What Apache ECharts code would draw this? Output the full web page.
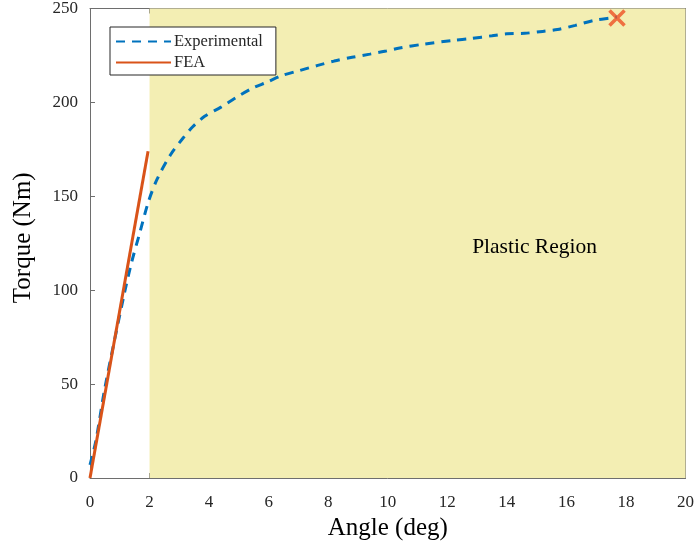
<!DOCTYPE html>
<html>
<head>
<meta charset="utf-8">
<script src="https://cdn.jsdelivr.net/npm/echarts@6/dist/echarts.min.js"></script>
<style>
  html, body { margin: 0; padding: 0; background: #fff; }
  #chart { width: 697px; height: 548px; }
</style>
</head>
<body>
<div id="chart"></div>
<script>
// Measured torque vs. twist angle
const experimentalAngle = [0, 0.2, 0.5, 1.15, 1.4, 1.68, 1.96, 2.25, 2.7, 3.1, 3.45, 3.85, 4.4, 4.9, 5.45, 5.95, 6.45, 7.05, 7.65, 8.2, 8.8, 9.4, 9.9, 10.4, 11.2, 12.2, 12.8, 13.5, 14.0, 14.6, 15.2, 15.7, 16.3, 16.9, 17.5, 17.7];
const experimentalTorque = [7, 20, 48, 98, 115, 131, 147, 159, 172, 180.5, 187, 192.6, 197.5, 202.5, 207.5, 210.8, 214.3, 217, 219.7, 222, 224, 225.7, 227.2, 229, 231, 233, 234, 235.5, 236.5, 236.8, 237.8, 238.8, 241, 243.6, 245, 245.5];

// Linear-elastic finite element prediction
const feaAngle = [0, 1.95];
const feaTorque = [0, 174];

// Failure point
const failureAngle = [17.7];
const failureTorque = [245];

// Plastic region bounds (deg)
const plasticStart = 2;
const plasticEnd = 20;

const xTicks = { min: 0, max: 20, interval: 2 };
const yTicks = { min: 0, max: 250, interval: 50 };

const pair = (xs, ys) => xs.map((x, i) => [x, ys[i]]);

const serif = '"Liberation Serif", "Times New Roman", serif';
const axisGrey = '#6e6e6e';
const textDark = '#262626';

const chart = echarts.init(document.getElementById('chart'));

const boxAxis = (extra) => Object.assign({
  type: 'value',
  axisLine: { show: true, onZero: false, lineStyle: { color: axisGrey, width: 1 } },
  axisTick: { show: true, inside: true, length: 5, lineStyle: { color: axisGrey } },
  splitLine: { show: false },
}, extra);

chart.setOption({
  backgroundColor: '#fff',
  animation: false,
  grid: { left: 90, right: 10, top: 8, bottom: 70, containLabel: false },
  legend: {
    left: 110, top: 27,
    orient: 'vertical',
    backgroundColor: '#fff',
    borderColor: '#262626',
    borderWidth: 1,
    borderRadius: 0,
    padding: [6, 13, 4, 5],
    itemGap: 4,
    itemWidth: 55,
    itemHeight: 14,
    itemStyle: { opacity: 0 },
    textStyle: { fontFamily: serif, fontSize: 16.5, color: textDark, padding: [0, 0, 0, -2] },
    data: ['Experimental', 'FEA'],
  },
  xAxis: [
    boxAxis({
      min: xTicks.min, max: xTicks.max, interval: xTicks.interval,
      name: 'Angle (deg)', nameLocation: 'middle', nameGap: 35,
      nameTextStyle: { fontFamily: serif, fontSize: 25, color: '#000' },
      axisLabel: { fontFamily: serif, fontSize: 17, color: textDark, margin: 16 },
    }),
    boxAxis({
      position: 'top', min: xTicks.min, max: xTicks.max, interval: xTicks.interval,
      axisLabel: { show: false },
    }),
  ],
  yAxis: [
    boxAxis({
      min: yTicks.min, max: yTicks.max, interval: yTicks.interval,
      name: 'Torque (Nm)', nameLocation: 'middle', nameGap: 54,
      nameTextStyle: { fontFamily: serif, fontSize: 25, color: '#000', padding: [0, 0, 0, 11] },
      axisLabel: { fontFamily: serif, fontSize: 17, color: textDark, margin: 12, padding: [6, 0, 0, 0] },
    }),
    boxAxis({
      position: 'right', min: yTicks.min, max: yTicks.max, interval: yTicks.interval,
      axisLabel: { show: false },
    }),
  ],
  series: [
    {
      name: 'Plastic',
      type: 'line',
      data: [],
      silent: true,
      markArea: {
        silent: true,
        itemStyle: { color: '#f3eeb3' },
        data: [[{ xAxis: plasticStart }, { xAxis: plasticEnd }]],
      },
      markPoint: {
        symbol: 'circle', symbolSize: 0,
        label: {
          show: true, formatter: 'Plastic Region',
          fontFamily: serif, fontSize: 21.5, color: '#000',
        },
        data: [{ coord: [14.93, 123] }],
      },
    },
    {
      name: 'Experimental',
      type: 'line',
      data: pair(experimentalAngle, experimentalTorque),
      symbol: 'none',
      smooth: 0.3,
      z: 3,
      lineStyle: { color: '#0072BD', width: 3, type: [9, 7] },
      itemStyle: { color: '#0072BD' },
    },
    {
      name: 'FEA',
      type: 'line',
      data: pair(feaAngle, feaTorque),
      symbol: 'none',
      z: 4,
      lineStyle: { color: '#D95319', width: 3 },
      itemStyle: { color: '#D95319' },
    },
    {
      name: 'Failure',
      type: 'scatter',
      data: pair(failureAngle, failureTorque),
      symbol: 'path://M0,0L10,10M10,0L0,10',
      symbolSize: 15,
      z: 5,
      itemStyle: { color: 'none', borderColor: '#EE5024', borderWidth: 3.5 },
    },
  ],
});
</script>
</body>
</html>
